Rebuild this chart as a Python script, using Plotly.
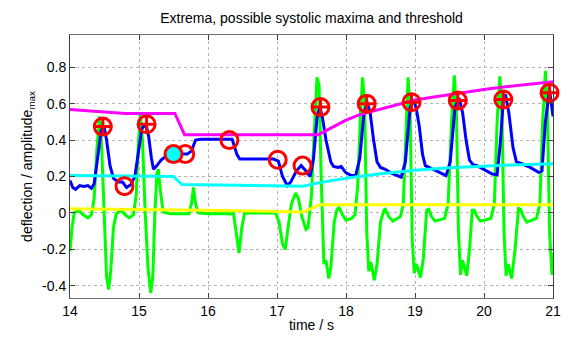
import plotly.graph_objects as go

# ---- data ----
green_t = [14.00, 14.03, 14.06, 14.12, 14.19, 14.26, 14.31, 14.35, 14.39, 14.43, 14.46, 14.50, 14.53, 14.56, 14.59, 14.63, 14.67, 14.74, 14.80, 14.86, 14.92, 14.96, 14.99, 15.02, 15.05, 15.09, 15.13, 15.17, 15.20, 15.23, 15.26, 15.28, 15.31, 15.35, 15.45, 15.72, 15.76, 15.79, 15.82, 15.86, 16.00, 16.37, 16.41, 16.45, 16.49, 16.53, 16.98, 17.03, 17.08, 17.12, 17.16, 17.21, 17.27, 17.31, 17.36, 17.42, 17.45, 17.50, 17.54, 17.58, 17.61, 17.64, 17.68, 17.71, 17.75, 17.78, 17.83, 17.87, 17.90, 17.95, 18.00, 18.08, 18.13, 18.17, 18.21, 18.24, 18.27, 18.30, 18.33, 18.36, 18.41, 18.45, 18.50, 18.55, 18.57, 18.62, 18.68, 18.79, 18.83, 18.87, 18.90, 18.93, 18.96, 18.99, 19.02, 19.08, 19.12, 19.17, 19.20, 19.24, 19.29, 19.43, 19.48, 19.53, 19.57, 19.60, 19.63, 19.66, 19.69, 19.75, 19.79, 19.83, 19.86, 19.90, 19.95, 20.10, 20.15, 20.19, 20.23, 20.26, 20.29, 20.32, 20.35, 20.40, 20.45, 20.50, 20.53, 20.57, 20.62, 20.76, 20.81, 20.85, 20.89, 20.92, 20.95, 20.985, 21.00]
green_v = [-0.21, -0.08, 0.00, 0.015, -0.01, -0.027, -0.01, 0.08, 0.35, 0.53, 0.35, -0.10, -0.35, -0.42, -0.32, -0.08, -0.005, 0.015, -0.01, -0.027, -0.01, 0.10, 0.38, 0.54, 0.40, 0.00, -0.30, -0.44, -0.35, 0.00, 0.22, 0.24, 0.12, 0.005, -0.005, -0.005, 0.05, 0.14, 0.05, 0.00, -0.005, -0.005, -0.10, -0.22, -0.08, 0.00, 0.00, -0.05, -0.17, -0.20, -0.08, 0.05, 0.11, 0.08, -0.02, -0.09, -0.08, 0.10, 0.45, 0.745, 0.70, 0.20, -0.28, -0.26, -0.36, -0.30, -0.05, 0.02, 0.03, -0.01, -0.04, -0.03, -0.01, 0.15, 0.55, 0.745, 0.60, -0.10, -0.32, -0.27, -0.37, -0.28, -0.05, 0.015, 0.02, -0.02, -0.045, -0.02, 0.05, 0.50, 0.745, 0.55, -0.15, -0.33, -0.28, -0.355, -0.25, 0.015, 0.02, -0.02, -0.045, -0.03, 0.05, 0.50, 0.755, 0.55, -0.10, -0.34, -0.26, -0.345, -0.20, 0.015, 0.015, -0.02, -0.045, -0.03, 0.05, 0.50, 0.75, 0.55, -0.10, -0.345, -0.28, -0.36, -0.20, 0.024, 0.02, -0.02, -0.05, -0.03, 0.05, 0.50, 0.78, 0.55, -0.10, -0.34, -0.22]

blue_t = [14.00, 14.04, 14.08, 14.14, 14.20, 14.26, 14.31, 14.35, 14.40, 14.45, 14.49, 14.53, 14.58, 14.63, 14.70, 14.76, 14.82, 14.88, 14.94, 14.99, 15.04, 15.10, 15.14, 15.18, 15.21, 15.26, 15.32, 15.42, 15.48, 15.70, 15.76, 15.82, 15.90, 16.35, 16.42, 16.46, 16.95, 17.02, 17.08, 17.15, 17.20, 17.28, 17.35, 17.42, 17.48, 17.53, 17.58, 17.62, 17.66, 17.71, 17.78, 17.82, 17.88, 17.93, 18.00, 18.08, 18.14, 18.20, 18.26, 18.31, 18.35, 18.40, 18.45, 18.50, 18.57, 18.65, 18.72, 18.80, 18.86, 18.93, 18.98, 19.02, 19.06, 19.11, 19.15, 19.21, 19.30, 19.37, 19.45, 19.51, 19.58, 19.64, 19.69, 19.74, 19.79, 19.84, 19.90, 20.00, 20.12, 20.19, 20.24, 20.28, 20.31, 20.36, 20.42, 20.47, 20.55, 20.67, 20.79, 20.84, 20.89, 20.95, 20.98, 21.00]
blue_v = [0.178, 0.14, 0.13, 0.15, 0.145, 0.15, 0.135, 0.16, 0.30, 0.45, 0.48, 0.40, 0.26, 0.19, 0.17, 0.17, 0.14, 0.155, 0.20, 0.33, 0.46, 0.49, 0.42, 0.30, 0.24, 0.26, 0.29, 0.32, 0.323, 0.323, 0.34, 0.40, 0.405, 0.405, 0.32, 0.296, 0.296, 0.285, 0.20, 0.15, 0.17, 0.23, 0.26, 0.23, 0.20, 0.30, 0.52, 0.586, 0.52, 0.40, 0.28, 0.255, 0.25, 0.255, 0.22, 0.205, 0.205, 0.30, 0.55, 0.605, 0.55, 0.40, 0.28, 0.25, 0.24, 0.22, 0.21, 0.196, 0.28, 0.58, 0.623, 0.57, 0.48, 0.32, 0.26, 0.25, 0.235, 0.22, 0.205, 0.28, 0.58, 0.63, 0.55, 0.40, 0.29, 0.265, 0.26, 0.24, 0.214, 0.21, 0.40, 0.62, 0.65, 0.55, 0.36, 0.28, 0.27, 0.25, 0.223, 0.23, 0.50, 0.677, 0.60, 0.53]

magenta_t = [14.0, 14.8, 15.52, 15.66, 17.6, 17.8, 18.0, 18.2, 18.4, 18.6, 18.8, 19.0, 19.25, 19.5, 19.75, 20.0, 20.25, 20.5, 20.75, 21.0]
magenta_v = [0.568, 0.546, 0.546, 0.43, 0.43, 0.47, 0.51, 0.54, 0.56, 0.58, 0.60, 0.62, 0.635, 0.65, 0.665, 0.678, 0.69, 0.70, 0.71, 0.72]

cyan_t = [14.0, 15.5, 15.62, 17.1, 17.38, 17.6, 18.0, 18.5, 19.0, 19.5, 20.0, 20.5, 21.0]
cyan_v = [0.205, 0.20, 0.156, 0.15, 0.147, 0.165, 0.19, 0.215, 0.235, 0.248, 0.258, 0.265, 0.27]

yellow_t = [14.0, 16.2, 17.38, 17.62, 21.0]
yellow_v = [0.023, 0.014, 0.005, 0.045, 0.045]

maxima_t = [14.476, 15.11, 17.63, 18.30, 18.95, 19.62, 20.28, 20.95]
maxima_v = [0.474, 0.487, 0.581, 0.60, 0.608, 0.617, 0.623, 0.66]

extrema_t = [14.79, 15.67, 16.31, 17.01, 17.37]
extrema_v = [0.147, 0.323, 0.40, 0.292, 0.26]

special_t = [15.50]
special_v = [0.323]

x_ticks = [14, 15, 16, 17, 18, 19, 20, 21]
y_ticks = [-0.4, -0.2, 0, 0.2, 0.4, 0.6, 0.8]
y_tick_labels = ["-0.4", "-0.2", "0", "0.2", "0.4", "0.6", "0.8"]

FONT = "Liberation Sans, Arial, sans-serif"
FS = 14

fig = go.Figure()
fig.add_trace(go.Scatter(x=green_t, y=green_v, mode="lines", line=dict(color="#00ff00", width=3)))
fig.add_trace(go.Scatter(x=yellow_t, y=yellow_v, mode="lines", line=dict(color="#ffff00", width=3)))
fig.add_trace(go.Scatter(x=blue_t, y=blue_v, mode="lines", line=dict(color="#0000ff", width=3)))
fig.add_trace(go.Scatter(x=cyan_t, y=cyan_v, mode="lines", line=dict(color="#00ffff", width=3)))
fig.add_trace(go.Scatter(x=magenta_t, y=magenta_v, mode="lines", line=dict(color="#ff00ff", width=3)))
fig.add_trace(go.Scatter(x=extrema_t, y=extrema_v, mode="markers", cliponaxis=False,
                         marker=dict(symbol="circle-open", size=17, color="#ff0000", line=dict(color="#ff0000", width=3))))
fig.add_trace(go.Scatter(x=maxima_t, y=maxima_v, mode="markers", cliponaxis=False,
                         marker=dict(symbol="circle-cross-open", size=17, color="#ff0000", line=dict(color="#ff0000", width=3))))
fig.add_trace(go.Scatter(x=special_t, y=special_v, mode="markers", cliponaxis=False,
                         marker=dict(symbol="circle", size=17, color="#00ffff", line=dict(color="#ff0000", width=3))))

fig.update_layout(
    width=568, height=338,
    margin=dict(l=70, r=7, t=35, b=38),
    paper_bgcolor="white", plot_bgcolor="white",
    showlegend=False,
    hovermode=False,
    font=dict(family=FONT, size=FS, color="black"),
    title=dict(text="Extrema, possible systolic maxima and threshold", x=0.5, xref="paper",
               y=1 - 18 / 338, yref="container", yanchor="middle", xanchor="center",
               font=dict(family=FONT, size=FS, color="black")),
)
fig.update_xaxes(range=[14, 21], tickvals=x_ticks, ticks="inside", ticklen=5, tickcolor="#404040",
                 showline=True, linecolor="#6e6e6e", linewidth=1, mirror="ticks",
                 showgrid=True, gridcolor="#b4b4b4", griddash="dot", gridwidth=1, zeroline=False,
                 title=dict(text="time / s", standoff=2, font=dict(size=FS)),
                 tickfont=dict(size=FS))
fig.update_yaxes(range=[-0.467, 0.977], tickvals=y_ticks, ticktext=y_tick_labels, ticks="inside", ticklen=5,
                 tickcolor="#404040", showline=True, linecolor="#404040", linewidth=1, mirror="ticks",
                 showgrid=True, gridcolor="#b4b4b4", griddash="dot", gridwidth=1, zeroline=False,
                 title=dict(text="deflection / amplitude<sub>max</sub>", standoff=6, font=dict(size=FS)),
                 tickfont=dict(size=FS))

fig.write_html("out.html", config={"displayModeBar": False, "staticPlot": True},
               post_script="document.body.style.margin='0';document.body.style.overflow='hidden';")
